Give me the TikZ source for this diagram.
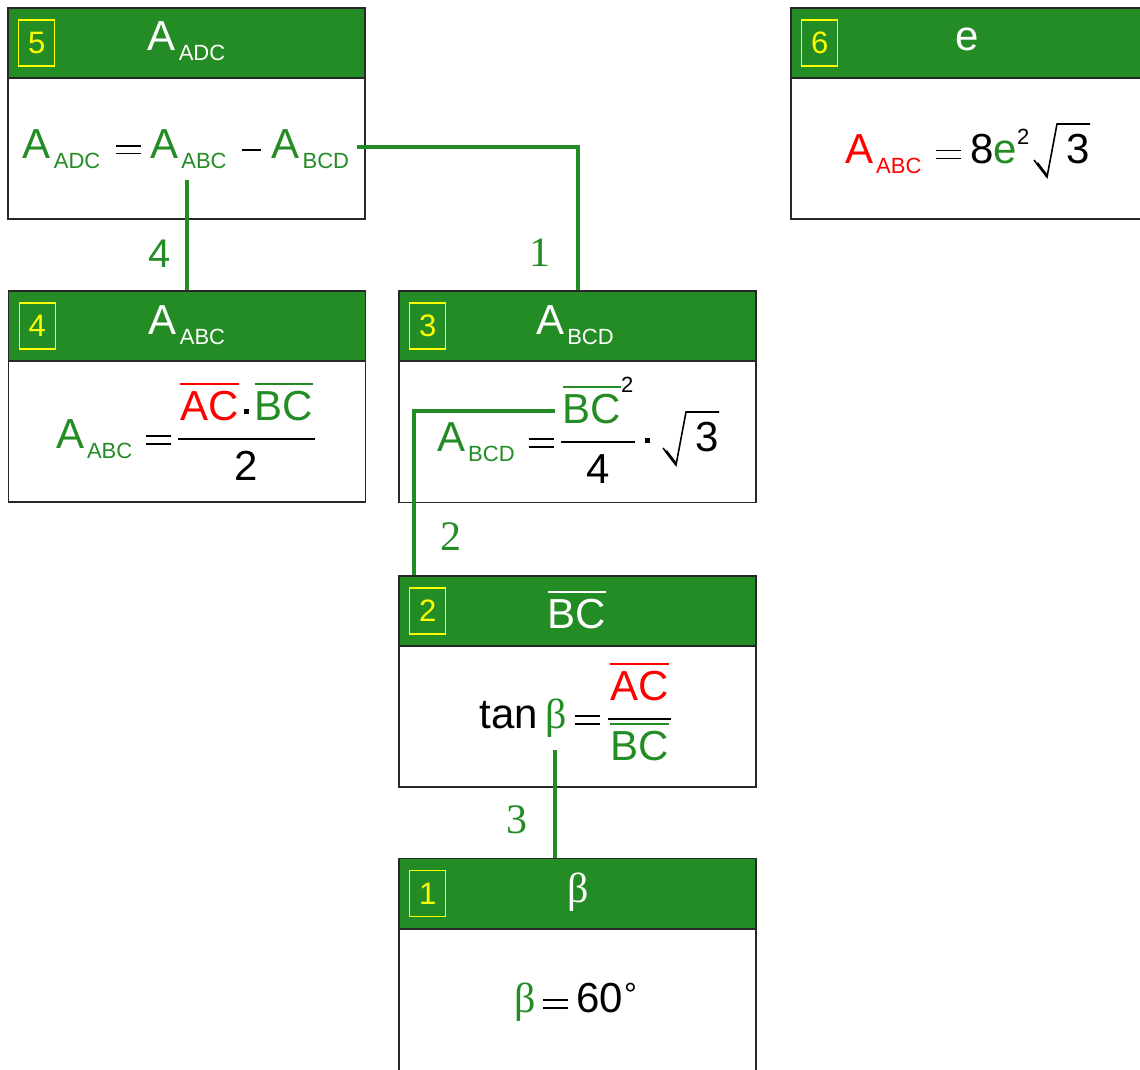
\documentclass[tikz,border=0pt]{standalone}
\usepackage{fontspec}
\setmainfont{Liberation Sans}
\newfontfamily\numserif{Liberation Serif}
\definecolor{leaf}{RGB}{36,140,36}
\definecolor{signal}{RGB}{255,255,0}
\definecolor{edge}{RGB}{40,40,40}

% A with a lowered index (A_ABC and the like)
\newcommand\Ax[1]{A\kern3pt\raisebox{-10pt}{\fontsize{22}{22}\selectfont #1}}
% segment name with a bar over it
\newcommand\ovr[1]{\vbox{\hrule height2pt\kern6pt\hbox{#1}}}
% equals and minus signs built from rules
\newcommand\meq{\rlap{\raisebox{3.5pt}{\rule{25pt}{1.8pt}}}\raisebox{11.5pt}{\rule{25pt}{1.8pt}}}
\newcommand\mminus{\raisebox{7pt}{\rule{19pt}{2pt}}}
% square multiplication dot
\newcommand\cdotsq[1]{\raisebox{#1}{\rule{5pt}{5pt}}}
\newcommand\betaG{{\numserif β}}
\newcommand\sups[2]{\raisebox{#1}{\fontsize{22}{22}\selectfont #2}}
% stacked fraction: numerator, bar, denominator
\newsavebox\fnum \newsavebox\fden \newlength\fwid
\newcommand\frc[2]{%
  \sbox\fnum{#1}\sbox\fden{#2}%
  \setlength\fwid{\wd\fnum}%
  \ifdim\wd\fden>\fwid\setlength\fwid{\wd\fden}\fi
  \addtolength\fwid{4pt}%
  \rlap{\raisebox{8pt}{\rule{\fwid}{2pt}}}%
  \rlap{\raisebox{28pt}{\hbox to\fwid{\hss\usebox\fnum\hss}}}%
  \raisebox{-32pt}{\hbox to\fwid{\hss\usebox\fden\hss}}}

\tikzset{
  head/.style={draw=edge, fill=leaf, line width=1.5pt, minimum width=357pt,
    minimum height=70pt, inner sep=0pt},
  body/.style={draw=edge, fill=white, line width=1.5pt, minimum width=357pt,
    minimum height=141pt, inner sep=0pt},
  title/.style={anchor=base, inner sep=0pt, text=white, font=\fontsize{42}{50}\selectfont},
  formula/.style={inner sep=0pt, font=\fontsize{42}{50}\selectfont},
  numbox/.style={draw=signal, text=signal, line width=1.2pt, minimum width=36pt,
    minimum height=46pt, inner sep=0pt, font=\fontsize{31}{31}\selectfont},
  link/.style={draw=leaf, line width=4pt},
  radix/.style={draw=black, line width=1.6pt, line join=miter},
  steplabel/.style={text=leaf, inner sep=0pt, font=\fontsize{42}{42}\selectfont\numserif},
}

\begin{document}
\begin{tikzpicture}[x=1pt,y=-1pt]
\useasboundingbox (0,0) rectangle (1140,1070);
\clip (0,0) rectangle (1140,1070);

% card 5
\node[head] (h5) at (186.5,43) {};
\node[body] (b5) at (186.5,148.5) {};
\node[numbox] (k5) at ([xshift=29.5pt]h5.west) {5};
\node[title] (t5) at (186.5,51) {\Ax{ADC}};
\node[formula, anchor=base] (f5) at (186,158) {\textcolor{leaf}{\Ax{ADC}}\kern16pt\meq\kern9pt\textcolor{leaf}{\Ax{ABC}}\kern15pt\mminus\kern11pt\textcolor{leaf}{\Ax{BCD}}};

% card 6
\node[head] (h6) at (969.5,43) {};
\node[body] (b6) at (969.5,148.5) {};
\node[numbox] (k6) at ([xshift=29.5pt]h6.west) {6};
\node[title] (t6) at (967,51) {e};
\node[formula, anchor=base west] (f6) at (845,163) {\textcolor{red}{\Ax{ABC}}\kern15pt\meq\kern9pt8\textcolor{leaf}{e}\sups{19pt}{2}};
\node[formula, anchor=base west] (r6) at (1066,163) {3};
\draw[radix] ([shift={(-32,-3)}]r6.base west) -- ([shift={(-19,14)}]r6.base west)
  -- ([shift={(-9,-39)}]r6.base west) -- ([shift={(24,-39)}]r6.base west);
\draw[radix, line width=2.6pt] ([shift={(-29,0)}]r6.base west) -- ([shift={(-19,13)}]r6.base west);

% card 4
\node[head] (h4) at (187,326) {};
\node[body] (b4) at (187,431.5) {};
\node[numbox] (k4) at ([xshift=29.5pt]h4.west) {4};
\node[title] (t4) at (187,334) {\Ax{ABC}};
\node[formula, anchor=base] (f4) at (185.5,448) {\textcolor{leaf}{\Ax{ABC}}\kern14pt\meq\kern7pt\frc{\textcolor{red}{\ovr{AC}}\kern5pt\cdotsq{6pt}\kern6pt\textcolor{leaf}{\ovr{BC}}}{2}};

% card 3
\node[head] (h3) at (577.5,326) {};
\node[body] (b3) at (577.5,432) {};
\node[numbox] (k3) at ([xshift=29.5pt]h3.west) {3};
\node[title] (t3) at (575,334) {\Ax{BCD}};
\node[formula, anchor=base west] (f3) at (437,451) {\textcolor{leaf}{\Ax{BCD}}\kern14pt\meq\kern7pt\frc{\textcolor{leaf}{\ovr{BC}}\sups{31pt}{2}}{4}\kern10pt\cdotsq{8pt}};
\node[formula, anchor=base west] (r3) at (695,451) {3};
\draw[radix] ([shift={(-32,-3)}]r3.base west) -- ([shift={(-19,14)}]r3.base west)
  -- ([shift={(-9,-39)}]r3.base west) -- ([shift={(24,-39)}]r3.base west);
\draw[radix, line width=2.6pt] ([shift={(-29,0)}]r3.base west) -- ([shift={(-19,13)}]r3.base west);

% card 2
\node[head] (h2) at (577.5,611) {};
\node[body] (b2) at (577.5,716.5) {};
\node[numbox] (k2) at ([xshift=29.5pt]h2.west) {2};
\node[title] (t2) at (577,628) {\ovr{BC}};
\node[formula, anchor=base] (f2) at (575,728) {tan\kern8pt\textcolor{leaf}{\betaG}\kern8pt\meq\kern8pt\frc{\textcolor{red}{\ovr{AC}}}{\textcolor{leaf}{\ovr{BC}}}};

% card 1
\node[head] (h1) at (577.5,893.5) {};
\node[body, minimum height=146pt] (b1) at (577.5,1002) {};
\node[numbox] (k1) at ([xshift=29.5pt]h1.west) {1};
\node[title] (t1) at (578,902) {\betaG};
\node[formula, anchor=base] (f1) at (575.5,1012) {\textcolor{leaf}{\betaG}\kern8pt\meq\kern8pt60\kern1pt\raisebox{7pt}{\fontsize{32}{32}\selectfont °}};

% points inside the formulas where the links start
\coordinate (p5r) at (357,147);
\coordinate (p5m) at (187,180);
\coordinate (p3l) at (555,411);
\coordinate (p2b) at (555,750);

\draw[link] (p5r) -| (h3.north);
\draw[link] (p5m) -- (h4.north);
\draw[link] (p3l) -| ([xshift=16pt]h2.north west);
\draw[link] (p2b) -- ([xshift=-22.5pt]h1.north);

\node[steplabel] (n1) at (540,253) {1};
\node[steplabel, font=\fontsize{40}{40}\selectfont] (n4) at (160,254) {4};
\node[steplabel] (n2) at (451,537) {2};
\node[steplabel] (n3) at (517,820) {3};
\end{tikzpicture}
\end{document}
